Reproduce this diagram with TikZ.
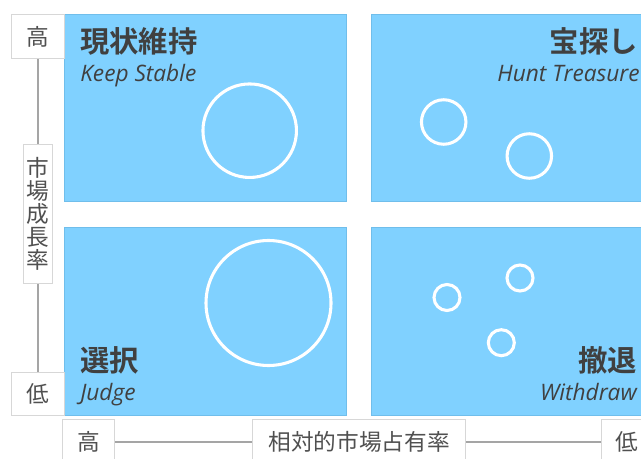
\documentclass[tikz,border=0pt]{standalone}
\usepackage{fontspec}
\usetikzlibrary{backgrounds}
\newfontfamily\jp{Noto Sans CJK JP}
\newfontfamily\jpbold{Noto Sans CJK JP Bold}
\newfontfamily\lat{Open Sans}
\definecolor{quadfill}{RGB}{128,209,255}
\definecolor{quadedge}{RGB}{112,190,235}
\definecolor{txt}{RGB}{64,64,64}
\definecolor{axtxt}{RGB}{80,80,80}
\definecolor{lbledge}{RGB}{215,215,215}
\definecolor{axline}{RGB}{165,165,165}
\tikzset{
  quad/.style={draw=quadedge, line width=0.75pt, fill=quadfill, inner sep=0pt, anchor=north west},
  ttl/.style={font=\jpbold\fontsize{22pt}{26pt}\selectfont, text=txt, inner sep=0pt},
  sub/.style={font=\lat\itshape\fontsize{17pt}{20pt}\selectfont, text=txt, inner sep=0pt},
  bub/.style={circle, draw=white, line width=2.3pt, inner sep=0pt},
  axlbl/.style={draw=lbledge, line width=0.75pt, fill=white, font=\jp\fontsize{17pt}{17.25pt}\selectfont, text=axtxt, inner sep=0pt, align=center},
  axis/.style={draw=axline, line width=1.1pt}
}
\begin{document}
\begin{tikzpicture}[x=0.75pt, y=-0.75pt]
\useasboundingbox (0,0) rectangle (641,459);
% quadrants
\node[quad, minimum width=282*0.75pt, minimum height=187*0.75pt] (q1) at (64,14) {};
\node[quad, minimum width=280*0.75pt, minimum height=187*0.75pt] (q2) at (371,14) {};
\node[quad, minimum width=282*0.75pt, minimum height=188*0.75pt] (q3) at (64,227) {};
\node[quad, minimum width=280*0.75pt, minimum height=188*0.75pt] (q4) at (371,227) {};
% titles
\node[ttl, anchor=west] (t1) at (80,41) {現状維持};
\node[sub, anchor=base west] (s1) at (80,82) {Keep Stable};
\node[ttl, anchor=east] (t2) at (638,41) {宝探し};
\node[sub, anchor=base east] (s2) at (640,82) {Hunt Treasure};
\node[ttl, anchor=west] (t3) at (80,360.5) {選択};
\node[sub, anchor=base west] (s3) at (80,400) {Judge};
\node[ttl, anchor=east] (t4) at (637,360.5) {撤退};
\node[sub, anchor=base east] (s4) at (637,400) {Withdraw};
% bubbles
\node[bub, minimum size=93.5*0.75pt] (c1) at (249.7,130.7) {};
\node[bub, minimum size=44.5*0.75pt] (c2) at (443.7,122) {};
\node[bub, minimum size=44.5*0.75pt] (c3) at (529.3,156) {};
\node[bub, minimum size=125*0.75pt] (c4) at (268.5,303) {};
\node[bub, minimum size=26*0.75pt] (c5) at (447,297.5) {};
\node[bub, minimum size=26*0.75pt] (c6) at (520,278) {};
\node[bub, minimum size=26*0.75pt] (c7) at (501.3,342.7) {};
% vertical axis
\node[axlbl, anchor=north west, minimum width=53*0.75pt, minimum height=44*0.75pt] (vhi) at (11,14) {高};
\node[axlbl, minimum width=29*0.75pt, minimum height=138*0.75pt] (vmid) at (37.5,214) {市\\場\\成\\長\\率};
\node[axlbl, anchor=north west, minimum width=53*0.75pt, minimum height=43*0.75pt] (vlo) at (11,372) {低};
% horizontal axis
\node[axlbl, anchor=north west, minimum width=52*0.75pt, minimum height=45*0.75pt] (hhi) at (62,419) {高};
\node[axlbl, anchor=north west, minimum width=213*0.75pt, minimum height=45*0.75pt] (hmid) at (252,419) {相対的市場占有率};
\node[axlbl, anchor=north west, minimum width=50*0.75pt, minimum height=45*0.75pt] (hlo) at (601,419) {低};
\begin{scope}[on background layer]
\draw[axis] (vhi) -- (vlo);
\draw[axis] (hhi) -- (hlo);
\end{scope}
\end{tikzpicture}
\end{document}
